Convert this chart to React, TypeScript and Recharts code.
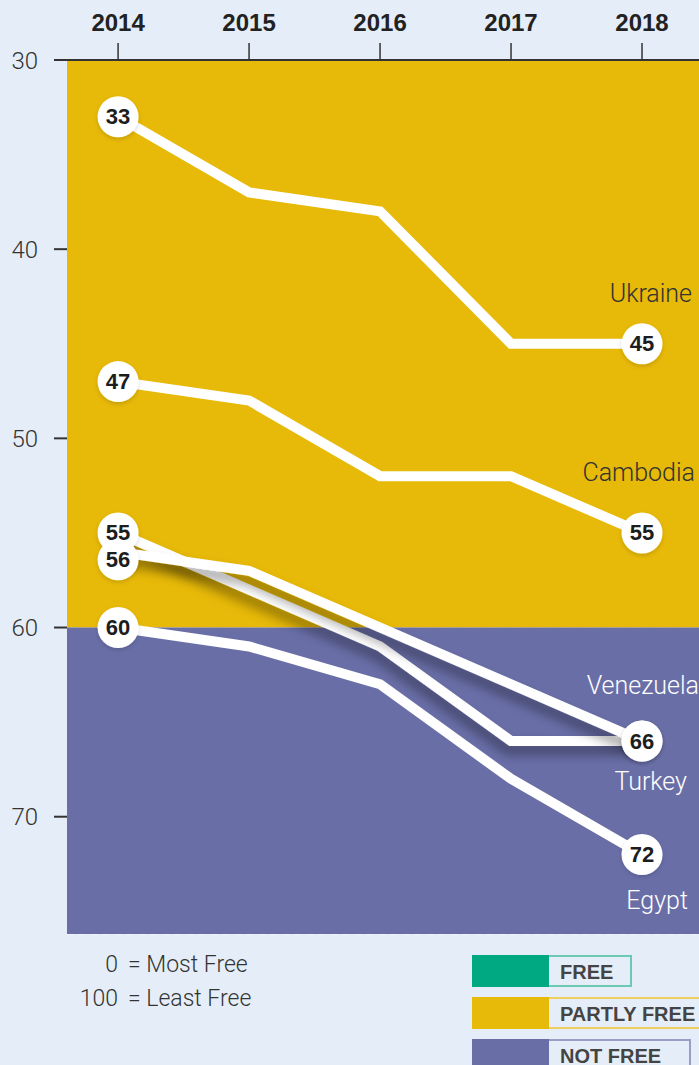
import React from "react";
import {
  LineChart,
  Line,
  XAxis,
  YAxis,
  CartesianGrid,
  ReferenceArea,
} from "recharts";

const years = [2014, 2015, 2016, 2017, 2018];
const ukraine = [33, 37, 38, 45, 45];
const cambodia = [47, 48, 52, 52, 55];
const venezuela = [56, 57, 60, 63, 66];
const turkey = [55, 58, 61, 66, 66];
const egypt = [60, 61, 63, 68, 72];
const yTicks = [30, 40, 50, 60, 70];
const partlyFreeBand = [30, 60];
const notFreeBand = [60, 76.2];
// year span shown, with some room either side of 2014 and 2018
const xDomain = [2013.61, 2018.435];

const YELLOW = "#e7b908";
const PURPLE = "#696ea7";
const TEAL = "#00a982";
const BG = "#e5eef8";

const data = years.map((year, i) => ({
  year,
  Ukraine: ukraine[i],
  Cambodia: cambodia[i],
  Venezuela: venezuela[i],
  Turkey: turkey[i],
  Egypt: egypt[i],
}));

// draw order: bottom first
const series = [
  { key: "Egypt", labelDy: 46, labelDx: 46, color: "#fff", shadow: false, startDy: 0 },
  { key: "Turkey", labelDy: 40, labelDx: 45, color: "#fff", shadow: true, startDy: 0 },
  { key: "Venezuela", labelDy: -56, labelDx: 57, color: "#fff", shadow: true, startDy: 8 },
  { key: "Cambodia", labelDy: -60, labelDx: 53, color: "#333", shadow: false, startDy: 0 },
  { key: "Ukraine", labelDy: -50, labelDx: 50, color: "#333", shadow: false, startDy: 0 },
];

const makeDot = (s: (typeof series)[number]) => (props: any) => {
  const { cx, index, payload } = props;
  if (index !== 0 && index !== years.length - 1) {
    return <g key={`${s.key}-${index}`} />;
  }
  const last = index === years.length - 1;
  // nudge the start badge a little so two close badges both read
  const cy = props.cy + (index === 0 ? s.startDy : 0);
  return (
    <g key={`${s.key}-${index}`}>
      <circle cx={cx} cy={cy} r={20.5} fill="#fff" filter="url(#dotShadow)" />
      <text
        x={cx}
        y={cy}
        textAnchor="middle"
        dominantBaseline="central"
        fontFamily="Liberation Sans, Arial, sans-serif"
        fontWeight={700}
        fontSize={22}
        fill="#1d1d1d"
      >
        {payload[s.key]}
      </text>
      {last && (
        <text
          x={cx + s.labelDx}
          y={cy + s.labelDy}
          textAnchor="end"
          dominantBaseline="central"
          fontFamily="Roboto, sans-serif"
          fontWeight={300}
          fontSize={25}
          fill={s.color}
        >
          {s.key}
        </text>
      )}
    </g>
  );
};

const legendRows = [
  { label: "FREE", color: TEAL, border: "#6cc9b3", boxWidth: 83 },
  { label: "PARTLY FREE", color: YELLOW, border: "#efcf5e", boxWidth: 160 },
  { label: "NOT FREE", color: PURPLE, border: "#9a9ec6", boxWidth: 142 },
];

export default function App() {
  return (
    <div
      style={{
        position: "absolute",
        left: 0,
        top: 0,
        width: 699,
        height: 1065,
        background: BG,
        overflow: "hidden",
      }}
    >
      <svg width={0} height={0} style={{ position: "absolute" }}>
        <defs>
          <filter id="lineShadow" x="-20%" y="-30%" width="140%" height="180%">
            <feDropShadow dx={-3} dy={8} stdDeviation={6} floodColor="#000" floodOpacity={0.4} />
          </filter>
          <filter id="dotShadow" x="-50%" y="-50%" width="200%" height="200%">
            <feDropShadow dx={0} dy={2} stdDeviation={2} floodColor="#000" floodOpacity={0.15} />
          </filter>
        </defs>
      </svg>
      <LineChart
        width={699}
        height={1065}
        data={data}
        margin={{ top: 0, right: 0, bottom: 131, left: 0 }}
      >
        <ReferenceArea
          y1={partlyFreeBand[0]}
          y2={partlyFreeBand[1]}
          fill={YELLOW}
          fillOpacity={1}
          stroke="none"
        />
        <ReferenceArea
          y1={notFreeBand[0]}
          y2={notFreeBand[1]}
          fill={PURPLE}
          fillOpacity={1}
          stroke="none"
        />
        <CartesianGrid
          vertical={false}
          stroke="rgba(255,255,255,0.45)"
          strokeDasharray="7 5"
          strokeWidth={1.5}
        />
        <XAxis
          dataKey="year"
          type="number"
          orientation="top"
          domain={xDomain}
          ticks={years}
          allowDataOverflow
          height={60}
          axisLine={{ stroke: "#333", strokeWidth: 2 }}
          tickLine={{ stroke: "#333", strokeWidth: 1.5 }}
          tickSize={17}
          tickMargin={12}
          tick={{
            fill: "#222",
            fontSize: 24,
            fontWeight: 700,
            fontFamily: "Liberation Sans, Arial, sans-serif",
          }}
        />
        <YAxis
          type="number"
          domain={[partlyFreeBand[0], notFreeBand[1]]}
          reversed
          ticks={yTicks}
          width={67}
          allowDataOverflow
          axisLine={false}
          tickLine={{ stroke: "#333", strokeWidth: 2 }}
          tickSize={13}
          tickMargin={16}
          tick={{
            fill: "#333",
            fontSize: 24,
            fontWeight: 300,
            fontFamily: "Roboto, sans-serif",
          }}
        />
        {series.map((s) => (
          <Line
            key={s.key}
            dataKey={s.key}
            type="linear"
            stroke="#fff"
            strokeWidth={10}
            strokeLinejoin="miter"
            filter={s.shadow ? "url(#lineShadow)" : undefined}
            dot={makeDot(s)}
            activeDot={false}
            isAnimationActive={false}
          />
        ))}
      </LineChart>

      <div
        style={{
          position: "absolute",
          left: 55,
          top: 948,
          fontFamily: "Roboto, sans-serif",
          fontWeight: 300,
          fontSize: 23,
          color: "#333",
          lineHeight: "34px",
        }}
      >
        {[
          ["0", "Most Free"],
          ["100", "Least Free"],
        ].map(([n, t]) => (
          <div key={n} style={{ display: "flex" }}>
            <span style={{ width: 63, textAlign: "right" }}>{n}</span>
            <span style={{ marginLeft: 10 }}>= {t}</span>
          </div>
        ))}
      </div>

      {legendRows.map((r, i) => (
        <div
          key={r.label}
          style={{
            position: "absolute",
            left: 472,
            top: 955 + i * 42,
            height: 32,
            display: "flex",
          }}
        >
          <div style={{ width: 77, height: 32, background: r.color }} />
          <div
            style={{
              width: r.boxWidth,
              height: 32,
              boxSizing: "border-box",
              border: `2px solid ${r.border}`,
              borderLeft: "none",
              fontFamily: "Liberation Sans, Arial, sans-serif",
              fontWeight: 700,
              fontSize: 20,
              color: "#444",
              lineHeight: "30px",
              paddingLeft: 11,
              whiteSpace: "nowrap",
            }}
          >
            {r.label}
          </div>
        </div>
      ))}
    </div>
  );
}
